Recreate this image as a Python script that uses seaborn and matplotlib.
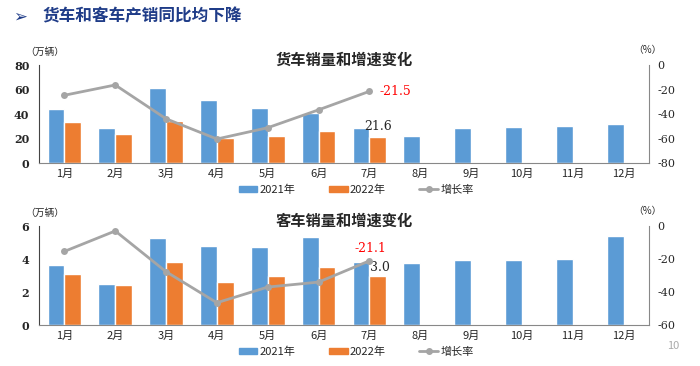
import numpy as np
import pandas as pd
import matplotlib
matplotlib.use('Agg')
import matplotlib.pyplot as plt
import seaborn as sns
from matplotlib.patches import Patch
from matplotlib.lines import Line2D

# Data
months = ['1月', '2月', '3月', '4月', '5月', '6月', '7月', '8月', '9月', '10月', '11月', '12月']
truck_2021 = [43.9, 28.5, 61.2, 51.5, 45.0, 40.6, 28.5, 21.7, 28.7, 29.8, 30.4, 32.2]
truck_2022 = [33.1, 23.9, 34.4, 20.1, 22.0, 26.0, 21.6]
truck_growth = [-24.7, -16.3, -43.9, -60.4, -51.2, -36.6, -21.5]
bus_2021 = [3.66, 2.48, 5.26, 4.78, 4.72, 5.35, 3.80, 3.76, 3.96, 3.96, 4.02, 5.39]
bus_2022 = [3.11, 2.40, 3.84, 2.58, 2.97, 3.52, 3.0]
bus_growth = [-15.4, -3.0, -27.7, -46.5, -37.0, -34.0, -21.1]

BLUE = '#5B9BD5'
ORANGE = '#ED7D31'
GRAY = '#A5A5A5'

sns.set_style('white')
plt.rcParams['font.family'] = ['Noto Sans CJK SC', 'DejaVu Sans']


def make_df(v21, v22):
    rows = []
    for m, v in zip(months, v21):
        rows.append({'month': m, 'year': '2021年', 'value': v})
    for m, v in zip(months, v22 + [np.nan] * (12 - len(v22))):
        rows.append({'month': m, 'year': '2022年', 'value': v})
    return pd.DataFrame(rows)


def draw(ax, v21, v22, growth, ymax, ystep, gmin, title):
    df = make_df(v21, v22)
    sns.barplot(data=df, x='month', y='value', hue='year', order=months,
                palette=[BLUE, ORANGE], width=0.66, ax=ax, legend=False,
                saturation=1, err_kws={'linewidth': 0})
    ax.set_ylim(0, ymax)
    yt = np.arange(0, ymax + 0.001, ystep)
    ax.set_yticks(yt)
    ax.set_yticklabels([f'{int(t)}' for t in yt],
                       fontsize=8, fontweight='bold', family='DejaVu Serif')
    ax.set_xlim(-0.5, 11.5)
    ax.set_xlabel('')
    ax.set_ylabel('')
    ax.tick_params(axis='x', labelsize=8, length=0, pad=4)
    ax.tick_params(axis='y', length=0, pad=7)
    for s in ['top', 'right']:
        ax.spines[s].set_visible(False)
    ax.spines['left'].set_color('#444444')
    ax.spines['bottom'].set_color('#888888')

    # growth rate on the right axis
    ax2 = ax.twinx()
    sns.lineplot(x=np.arange(len(growth)), y=growth, ax=ax2, color=GRAY,
                 linewidth=2, marker='o', markersize=5, markeredgewidth=0)
    ax2.set_ylim(gmin, 0)
    gt = np.arange(gmin, 1, 20)
    ax2.set_yticks(gt)
    ax2.set_yticklabels([f'{int(t)}' for t in gt], fontsize=8, family='DejaVu Serif')
    ax2.tick_params(axis='y', length=0, pad=6)
    ax2.set_xlim(-0.5, 11.5)
    for s in ['top', 'left', 'bottom']:
        ax2.spines[s].set_visible(False)
    ax2.spines['right'].set_color('#888888')

    ax.text(0.5, 1.05, title, transform=ax.transAxes, fontsize=11,
            fontweight='bold', ha='center', va='center')
    ax.text(-0.022, 1.13, '（万辆）', transform=ax.transAxes, fontsize=7,
            ha='left', va='center')
    ax.text(0.997, 1.15, '（%）', transform=ax.transAxes, fontsize=7,
            ha='center', va='center')

    handles = [Patch(color=BLUE, label='2021年'), Patch(color=ORANGE, label='2022年'),
               Line2D([0], [0], color=GRAY, lw=2, marker='o', markersize=4, label='增长率')]
    ax.legend(handles=handles, loc='center', bbox_to_anchor=(0.52, -0.27), ncol=3,
              frameon=False, fontsize=8, handlelength=1.7, handleheight=0.5,
              handletextpad=0.2, columnspacing=3.0)
    return ax2


fig = plt.figure(figsize=(7, 3.66), dpi=100)
fig.patch.set_facecolor('white')

ax_top = fig.add_axes([0.0557, 0.5546, 0.8714, 0.2678])
ax2_top = draw(ax_top, truck_2021, truck_2022, truck_growth, 80, 20, -80,
               '货车销量和增速变化')
ax2_top.text(6.2, truck_growth[6], f'{truck_growth[6]}', color='red', fontsize=9,
             family='DejaVu Serif', va='center', ha='left')
ax_top.text(6.17, truck_2022[6] + 2.5, f'{truck_2022[6]}', fontsize=9,
            family='DejaVu Serif', ha='center', va='bottom')

ax_bot = fig.add_axes([0.0557, 0.1120, 0.8714, 0.2705])
ax2_bot = draw(ax_bot, bus_2021, bus_2022, bus_growth, 6, 2, -60,
               '客车销量和增速变化')
ax2_bot.text(6.02, bus_growth[6] + 3.5, f'{bus_growth[6]}', color='red', fontsize=9,
             family='DejaVu Serif', va='bottom', ha='center')
ax_bot.text(6.2, bus_2022[6] + 0.08, f'{bus_2022[6]:.1f}', fontsize=9,
            family='DejaVu Serif', ha='center', va='bottom')

# Slide header
fig.text(0.019, 0.955, '➢', fontsize=12, color='#1F3C88', va='center',
         family=['DejaVu Sans'], fontweight='bold')
fig.text(0.061, 0.955, '货车和客车产销同比均下降', fontsize=12, fontweight='bold',
         color='#1F3C88', va='center')
fig.text(0.962, 0.055, '10', fontsize=8, color='#AAAAAA', ha='center', va='center')

fig.savefig('out.png', dpi=100)
